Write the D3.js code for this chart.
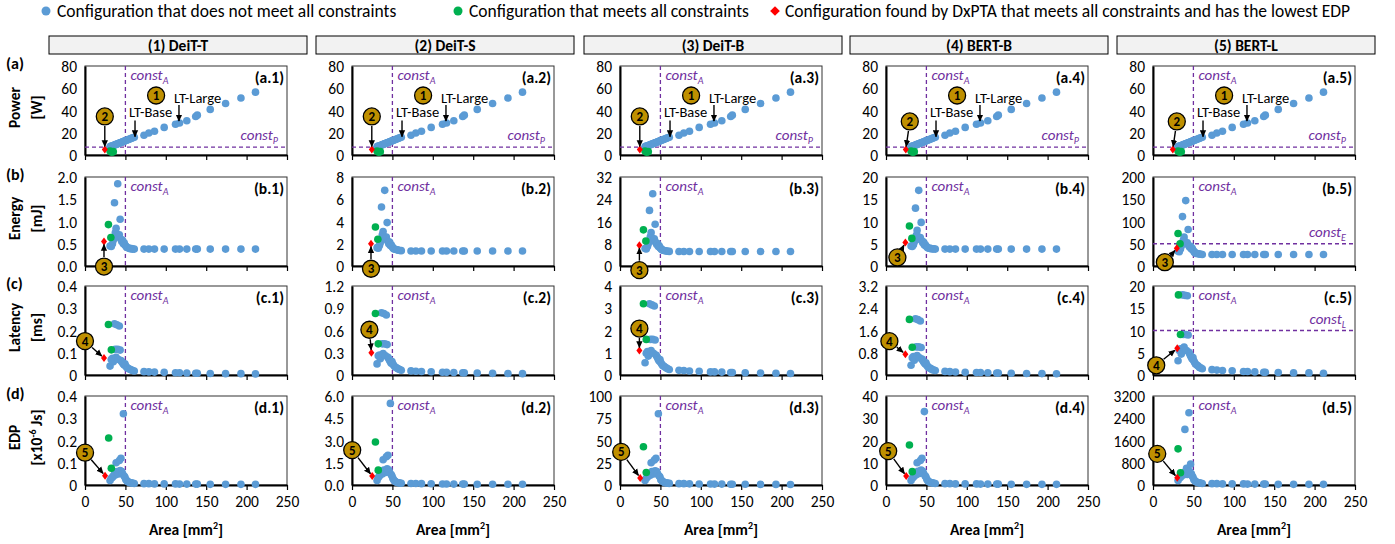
<!DOCTYPE html>
<html><head><meta charset="utf-8">
<script src="https://cdn.jsdelivr.net/npm/d3@7"></script>
<style>
body{margin:0;background:#fff;}
svg text{font-family:Carlito,Calibri,Lato,sans-serif;}
</style></head><body>
<svg id="c" width="1395" height="544"></svg>
<script>
// ---------------- DATA ----------------
const models = ["(1) DeiT-T","(2) DeiT-S","(3) DeiT-B","(4) BERT-B","(5) BERT-L"];
const rowKeys = ["a","b","c","d"];
const rowNames = ["Power","Energy","Latency","EDP"];
const rowUnits = ["[W]","[mJ]","[ms]","[x10|-6| Js]"];
const xTicks = [0,50,100,150,200,250];
const constA = 50;
const constP = 7;
const constE5 = 50;
const constL5 = 10;

// areas [mm2] of the configurations that do not meet all constraints
const area = [31,32.5,34,35,36.5,37.5,38.5,39.5,40.5,41.5,42.5,43.5,44.5,45.5,46.5,47.5,48.5,49.5,50.5,51.5,53,54.5,56,57.5,59,61,
              73,79,86,98,112,117,126,137,139,155,174,193,211];

const power = [7.5,8,8.3,8.6,9,9.3,9.5,9.8,10.1,10.4,10.7,11,11.2,11.5,11.8,12.1,12.4,12.7,13,13.3,13.7,14.1,14.5,15,15.4,15.9,
               17.8,19.8,21.3,24.8,27.7,28.8,30.8,34.6,35.8,41,46.3,51.2,56.5];

const energy1 = [0.45,0.44,0.5,0.58,1.42,0.75,0.85,0.72,1.85,0.65,0.7,1.05,0.6,0.55,0.58,0.5,0.52,0.47,0.45,0.42,0.41,0.4,0.39,0.39,0.38,0.38,
                 0.38,0.38,0.38,0.38,0.38,0.38,0.38,0.38,0.38,0.38,0.38,0.38,0.38];
const energy2 = [1.65,1.6,1.85,2.1,5.3,2.8,3.1,2.65,6.8,2.4,2.6,3.9,2.2,2.0,2.15,1.85,1.9,1.75,1.65,1.55,1.5,1.48,1.45,1.42,1.4,1.38,
                 1.35,1.35,1.35,1.35,1.35,1.35,1.35,1.35,1.35,1.35,1.35,1.35,1.35];
const energy3 = [6.3,6.1,7,8,20,10.5,12,10,26,9.1,9.8,15,8.4,7.7,8.1,7,7.3,6.6,6.3,5.9,5.7,5.6,5.5,5.4,5.3,5.25,
                 5.2,5.2,5.2,5.2,5.2,5.2,5.2,5.2,5.2,5.2,5.2,5.2,5.2];
const energy4 = [4.5,4.4,4.8,5.4,13,6.9,8,6.6,17,6,6.4,9.8,5.6,5.2,5.4,4.7,4.8,4.5,4.3,4.1,4,3.95,3.9,3.85,3.85,3.8,
                 3.8,3.8,3.8,3.8,3.8,3.8,3.8,3.8,3.8,3.8,3.8,3.8,3.8];
const energy5 = [33,32,38,45,111,58,65,55,147,50,52,82,45,42,44,38,40,36,33,30,29,28,27.5,27,26.5,26,
                 26,26,26,26,26,26,26,26,26,26,26,26,26];

const latency1 = [0.04,0.07,0.075,0.06,0.23,0.115,0.08,0.226,0.115,0.07,0.22,0.112,0.065,0.06,0.055,0.05,0.045,0.05,0.04,0.035,0.03,0.028,0.025,0.022,0.02,0.018,
                  0.015,0.014,0.013,0.012,0.01,0.01,0.009,0.008,0.008,0.007,0.006,0.006,0.005];
const latency2 = [0.15,0.26,0.27,0.22,0.84,0.42,0.29,0.83,0.42,0.26,0.81,0.41,0.24,0.22,0.2,0.18,0.16,0.18,0.15,0.13,0.11,0.1,0.09,0.08,0.075,0.065,
                  0.055,0.05,0.048,0.044,0.037,0.036,0.033,0.03,0.029,0.026,0.022,0.021,0.018];
const latency3 = [0.55,0.98,1.05,0.85,3.2,1.6,1.1,3.15,1.6,0.98,3.1,1.57,0.9,0.84,0.77,0.7,0.63,0.7,0.56,0.49,0.42,0.39,0.35,0.31,0.28,0.25,
                  0.21,0.2,0.18,0.17,0.14,0.14,0.13,0.11,0.11,0.1,0.085,0.08,0.07];
const latency4 = [0.35,0.62,0.66,0.53,2.02,1.01,0.7,1.99,1.01,0.62,1.94,0.99,0.57,0.53,0.48,0.44,0.4,0.44,0.35,0.31,0.26,0.25,0.22,0.19,0.18,0.16,
                  0.13,0.12,0.11,0.1,0.088,0.088,0.08,0.07,0.07,0.062,0.053,0.05,0.044];
const latency5 = [3.2,5.5,5.9,4.7,18,9.1,6.3,17.9,9.1,5.5,17.8,9,5.1,4.7,4.3,4,3.6,3.9,3.2,2.8,2.4,2.2,2,1.7,1.6,1.4,
                  1.2,1.1,1,0.95,0.8,0.8,0.7,0.63,0.63,0.55,0.47,0.47,0.4];

const edp1 = [0.02,0.03,0.035,0.04,0.05,0.045,0.1,0.06,0.055,0.05,0.11,0.065,0.12,0.06,0.05,0.32,0.04,0.035,0.025,0.02,0.015,0.012,0.01,0.01,0.008,0.007,
              0.006,0.006,0.005,0.005,0.005,0.004,0.004,0.004,0.004,0.003,0.003,0.003,0.003];
const edp2 = [0.3,0.5,0.6,0.7,0.85,0.75,1.7,1.0,0.95,0.85,1.9,1.1,2.0,1.0,0.85,5.5,0.7,0.6,0.45,0.35,0.26,0.2,0.17,0.15,0.13,0.12,
              0.1,0.1,0.09,0.08,0.07,0.07,0.06,0.06,0.06,0.05,0.05,0.05,0.05];
const edp3 = [5,7.5,9,10,12.5,11,25,15,14,12.5,28,16,30,15,12.5,80,10,9,6,5,4,3,2.5,2.5,2,1.8,
              1.5,1.5,1.3,1.2,1.1,1,1,0.9,0.9,0.8,0.7,0.7,0.6];
const edp4 = [2,3,3.6,4.1,5.2,4.6,10,6.2,5.7,5.2,11,6.7,12,6.2,5.2,33,4.1,3.6,2.6,2,1.5,1.2,1,1,0.8,0.7,
              0.6,0.6,0.5,0.5,0.5,0.4,0.4,0.4,0.4,0.3,0.3,0.3,0.3];
const edp5 = [160,240,280,320,400,360,450,2000,440,600,380,500,2600,480,750,400,320,280,200,160,120,100,80,80,64,56,
              48,48,40,40,40,32,32,32,32,24,24,24,24];

// configurations that meet all constraints [area, value]
const greenPower = [[31,3.5],[33,2.5],[35,3]];
const greenEnergy = [[[29,0.93],[32,0.64]],[[29,3.5],[32,2.4]],[[29,13],[32,9]],[[29,9],[32,6.2]],[[31,73],[33.5,50]]];
const greenLatency = [[[29,0.227],[32.6,0.113]],[[29,0.83],[32.5,0.42]],[[29,3.2],[32.5,1.6]],[[29,2.0],[32.5,1.0]],[[31.5,18],[34,9.1]]];
const greenEDP = [[[29.3,0.211],[32.6,0.075]],[[29,2.9],[32.5,1.0]],[[29,43],[32.5,14]],[[29,18],[32.5,6]],[[31,1300],[34,440]]];
// configuration found by DxPTA [area, value]
const redPower = [24.5,5];
const redEnergy = [[23.5,0.55],[23.5,2.0],[24,7.5],[24,5.3],[29.5,40]];
const redLatency = [[23.5,0.076],[24,0.3],[24,1.1],[24,0.75],[30,6]];
const redEDP = [[24.8,0.042],[25,0.6],[25,8],[25,4],[30,257]];

const ticksPower = ["0","20","40","60","80"];
const ticksEnergy = [["0.0","0.5","1.0","1.5","2.0"],["0","2","4","6","8"],["0","8","16","24","32"],["0","5","10","15","20"],["0","50","100","150","200"]];
const ticksLatency = [["0","0.1","0.2","0.3","0.4"],["0","0.3","0.6","0.9","1.2"],["0","1","2","3","4"],["0","0.8","1.6","2.4","3.2"],["0","5","10","15","20"]];
const ticksEDP = [["0","0.1","0.2","0.3","0.4"],["0.0","1.5","3.0","4.5","6.0"],["0","25","50","75","100"],["0","10","20","30","40"],["0","800","1600","2400","3200"]];

// ---------------- LAYOUT ----------------
const PURPLE = "#7030A0", BLUE = "#5B9BD5", GREEN = "#00B050", RED = "#FF0000", GOLD = "#BF9000";
const colLeft = [85,352,620,886,1153], plotW = 202;
const rowTop = [66,177,286,396], plotH = 89;
// circle offsets (px) of the numbered callouts relative to the red marker
const calloutOff = [
  [[0,-33],[0,-33],[0,-33],[4,-28],[4,-28]],
  [[0,25],[0,25],[0,25],[-8,15],[-12,14]],
  [[-19,-17],[-2,-23],[0,-22],[-16,-13],[-21,17]],
  [[-20,-23],[-20,-26],[-19,-26],[-18,-25],[-20,-24]]
];

const blueSets = [
  [power,power,power,power,power],
  [energy1,energy2,energy3,energy4,energy5],
  [latency1,latency2,latency3,latency4,latency5],
  [edp1,edp2,edp3,edp4,edp5]
];
const greenSets = [[greenPower,greenPower,greenPower,greenPower,greenPower],greenEnergy,greenLatency,greenEDP];
const redSets = [[redPower,redPower,redPower,redPower,redPower],redEnergy,redLatency,redEDP];
const tickSets = [[ticksPower,ticksPower,ticksPower,ticksPower,ticksPower],ticksEnergy,ticksLatency,ticksEDP];

const svg = d3.select("#c");
svg.append("defs").append("marker").attr("id","ah").attr("viewBox","0 0 10 10")
  .attr("refX",9).attr("refY",5).attr("markerWidth",7).attr("markerHeight",7)
  .attr("markerUnits","userSpaceOnUse").attr("orient","auto")
  .append("path").attr("d","M0,0.5 L10,5 L0,9.5 z").attr("fill","#000");

function arrow(g,x1,y1,x2,y2){
  g.append("line").attr("x1",x1).attr("y1",y1).attr("x2",x2).attr("y2",y2)
   .attr("stroke","#000").attr("stroke-width",1.4).attr("marker-end","url(#ah)");
}
function callout(g,cx,cy,num){
  g.append("circle").attr("cx",cx).attr("cy",cy).attr("r",8.5).attr("fill",GOLD).attr("stroke","#000").attr("stroke-width",1.3);
  g.append("text").attr("x",cx).attr("y",cy+4.5).attr("text-anchor","middle").attr("font-size",13).attr("font-weight","bold").attr("fill","#000").text(num);
}
function constText(g,x,y,sub,anchor){
  const t = g.append("text").attr("x",x).attr("y",y).attr("text-anchor",anchor).attr("fill",PURPLE)
    .attr("font-style","italic").attr("font-size",15);
  t.append("tspan").text("const");
  t.append("tspan").attr("font-size",10).attr("dy",4).text(sub);
}

// legend
const leg = svg.append("g");
leg.append("circle").attr("cx",46).attr("cy",11).attr("r",4.5).attr("fill",BLUE);
leg.append("text").attr("x",57).attr("y",17).attr("font-size",17.5).text("Configuration that does not meet all constraints");
leg.append("circle").attr("cx",458).attr("cy",11).attr("r",4.5).attr("fill",GREEN);
leg.append("text").attr("x",469).attr("y",17).attr("font-size",17.5).text("Configuration that meets all constraints");
leg.append("path").attr("d",d3.symbol(d3.symbolDiamond2,60)()).attr("transform","translate(775,11)").attr("fill",RED);
leg.append("text").attr("x",785).attr("y",17).attr("font-size",17.5).text("Configuration found by DxPTA that meets all constraints and has the lowest EDP");

// column title boxes
models.forEach((m,c)=>{
  svg.append("rect").attr("x",colLeft[c]-36).attr("y",36).attr("width",258).attr("height",18)
    .attr("fill","#F2F2F2").attr("stroke","#000").attr("stroke-width",1);
  svg.append("text").attr("x",colLeft[c]-36+129).attr("y",50.5).attr("text-anchor","middle")
    .attr("font-size",15.5).attr("font-weight","bold").text(m);
});

// row labels
rowKeys.forEach((k,r)=>{
  const cy = rowTop[r]+plotH/2-3;
  svg.append("text").attr("x",6).attr("y",rowTop[r]+3).attr("font-size",16).attr("font-weight","bold").text("("+k+")");
  svg.append("text").attr("transform",`translate(20,${cy}) rotate(-90)`).attr("text-anchor","middle")
    .attr("font-size",15.5).attr("font-weight","bold").text(rowNames[r]);
  const parts = rowUnits[r].split("|");
  const t = svg.append("text").attr("transform",`translate(42,${cy}) rotate(-90)`).attr("text-anchor","middle")
    .attr("font-size",15.5).attr("font-weight","bold");
  t.append("tspan").text(parts[0]);
  if(parts.length>1){
    t.append("tspan").attr("font-size",10).attr("dy",-6).text(parts[1]);
    t.append("tspan").attr("dy",6).text(parts[2]);
  }
});

function styleAxis(a){
  a.attr("font-family",null).attr("font-size",null);
  a.selectAll("text").attr("font-size",15.5).attr("fill","#000");
  a.select(".domain").attr("stroke","#000").attr("stroke-width",2);
  a.selectAll(".tick line").attr("stroke","#000").attr("stroke-width",1.2);
}

for(let r=0;r<4;r++){
  for(let c=0;c<5;c++){
    const x0 = colLeft[c], y0 = rowTop[r];
    const labels = tickSets[r][c];
    const tv = labels.map(Number);
    const xs = d3.scaleLinear().domain([0,250]).range([x0,x0+plotW]);
    const ys = d3.scaleLinear().domain([0,tv[tv.length-1]]).range([y0+plotH,y0]);
    const g = svg.append("g");
    g.append("rect").attr("x",x0).attr("y",y0).attr("width",plotW).attr("height",plotH)
      .attr("fill","none").attr("stroke","#333").attr("stroke-width",1);

    const xa = g.append("g").attr("transform",`translate(0,${y0+plotH})`)
      .call(d3.axisBottom(xs).tickValues(xTicks).tickSizeInner(5).tickSizeOuter(0).tickPadding(6)
        .tickFormat(r===3 ? d3.format("d") : ()=>""));
    styleAxis(xa);
    const ya = g.append("g").attr("transform",`translate(${x0},0)`)
      .call(d3.axisLeft(ys).tickValues(tv).tickSizeInner(0).tickSizeOuter(0).tickPadding(8)
        .tickFormat((d,i)=>labels[i]));
    styleAxis(ya);
    ya.selectAll(".tick text").attr("dy","0.36em");

    if(r===3){
      const t = g.append("text").attr("x",x0+plotW/2).attr("y",535).attr("text-anchor","middle")
        .attr("font-size",15.5).attr("font-weight","bold");
      t.append("tspan").text("Area [mm");
      t.append("tspan").attr("font-size",10).attr("dy",-6).text("2");
      t.append("tspan").attr("dy",6).text("]");
    }

    // constraint lines
    g.append("line").attr("x1",xs(constA)).attr("x2",xs(constA)).attr("y1",y0).attr("y2",y0+plotH)
      .attr("stroke",PURPLE).attr("stroke-width",1.3).attr("stroke-dasharray","4,3");
    constText(g,xs(constA)+5,y0+14,"A","start");
    let hc = null, hsub = null;
    if(r===0){hc = constP; hsub="P";}
    if(r===1 && c===4){hc = constE5; hsub="E";}
    if(r===2 && c===4){hc = constL5; hsub="L";}
    if(hc!==null){
      g.append("line").attr("x1",x0).attr("x2",x0+plotW).attr("y1",ys(hc)).attr("y2",ys(hc))
        .attr("stroke",PURPLE).attr("stroke-width",1.3).attr("stroke-dasharray","4,3");
      constText(g,x0+plotW-9,ys(hc)-7,hsub,"end");
    }

    // panel label
    g.append("text").attr("x",x0+plotW-3).attr("y",y0+17).attr("text-anchor","end")
      .attr("font-size",15.5).attr("font-weight","bold").text("("+rowKeys[r]+"."+(c+1)+")");

    // points
    const vals = blueSets[r][c];
    g.selectAll("circle.b").data(area.map((a,i)=>[a,vals[i]])).join("circle")
      .attr("cx",d=>xs(d[0])).attr("cy",d=>ys(d[1])).attr("r",3.8).attr("fill",BLUE);
    g.selectAll("circle.g").data(greenSets[r][c]).join("circle")
      .attr("cx",d=>xs(d[0])).attr("cy",d=>ys(d[1])).attr("r",3.8).attr("fill",GREEN);
    const rd = redSets[r][c];
    const rx = xs(rd[0]), ry = ys(rd[1]);
    g.append("path").attr("d","M0,-4 L3,0 L0,4 L-3,0 Z").attr("transform",`translate(${rx},${ry})`).attr("fill",RED);

    // row (a) LT annotations
    if(r===0){
      callout(g,xs(88),ys(53.5),"1");
      g.append("text").attr("x",xs(110)).attr("y",ys(51)+5).attr("font-size",14.5).text("LT-Large");
      arrow(g,xs(116.3),ys(45),xs(116.3),ys(30.5));
      g.append("text").attr("x",xs(54.5)).attr("y",ys(38.5)+5).attr("font-size",14.5).text("LT-Base");
      arrow(g,xs(61.9),ys(31),xs(61.9),ys(16.5));
    }
    // numbered callout to the red marker
    const off = calloutOff[r][c];
    const cx = rx+off[0], cy = ry+off[1];
    const len = Math.hypot(off[0],off[1]);
    const ux = -off[0]/len, uy = -off[1]/len;
    arrow(g,cx+ux*9.5,cy+uy*9.5,rx-ux*3,ry-uy*3);
    callout(g,cx,cy, r===0 ? "2" : String(r+2));
  }
}
</script>
</body></html>
